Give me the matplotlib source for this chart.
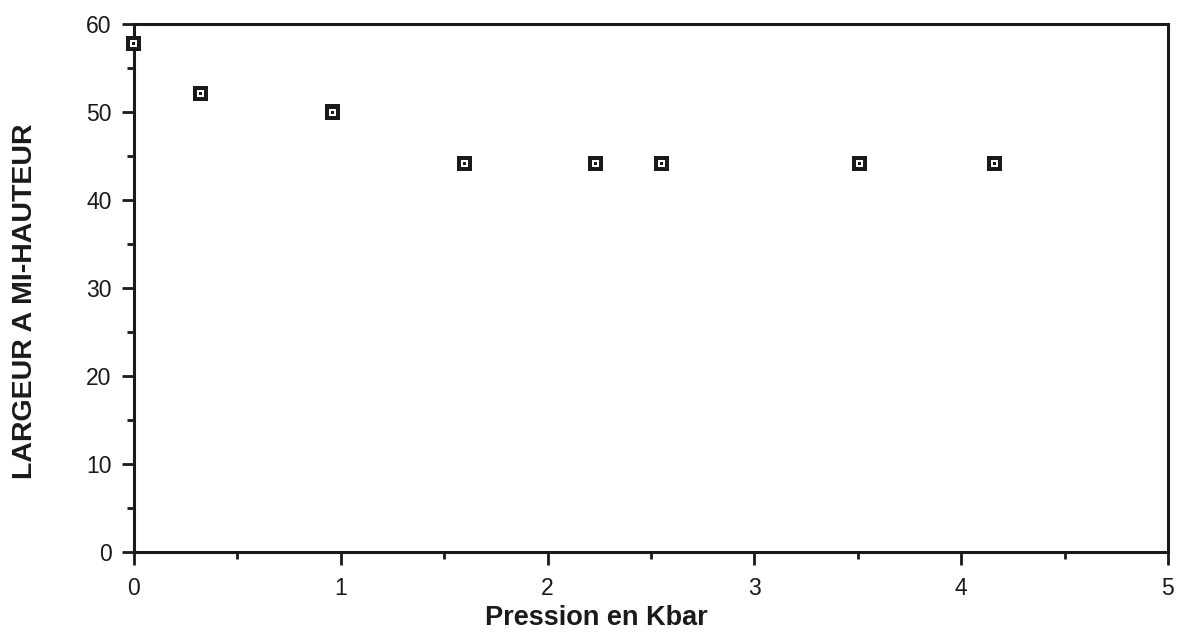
import matplotlib
matplotlib.use("Agg")
import matplotlib.pyplot as plt
from matplotlib.ticker import MultipleLocator

pression = [0.0, 0.32, 0.96, 1.60, 2.23, 2.55, 3.51, 4.16]
largeur = [57.8, 52.1, 50.0, 44.2, 44.2, 44.2, 44.2, 44.2]

x_ticks = [0, 1, 2, 3, 4, 5]
y_ticks = [0, 10, 20, 30, 40, 50, 60]

plt.rcParams['font.family'] = ['Liberation Sans', 'DejaVu Sans']

fig = plt.figure(figsize=(11.77, 6.32), dpi=100)
ax = fig.add_axes([0.1138, 0.1266, 0.8785, 0.8354])

ax.scatter(pression, largeur, marker='s', s=15**2 * 0.52, facecolor='#1a1a1a',
           edgecolor='none', zorder=3, clip_on=False)
ax.scatter(pression, largeur, marker='s', s=7**2 * 0.52, facecolor='white',
           edgecolor='none', zorder=4, clip_on=False)
ax.scatter(pression, largeur, marker='s', s=3**2 * 0.52, facecolor='#1a1a1a',
           edgecolor='none', zorder=5, clip_on=False)

ax.set_xlim(0, 5)
ax.set_ylim(0, 60)
ax.set_xticks(x_ticks)
ax.set_yticks(y_ticks)
ax.xaxis.set_minor_locator(MultipleLocator(0.5))
ax.yaxis.set_minor_locator(MultipleLocator(5))

for s in ax.spines.values():
    s.set_linewidth(2.2)
    s.set_color('#1a1a1a')

ax.tick_params(which='major', direction='out', length=9, width=2.0, color='#1a1a1a',
               labelsize=16.5, labelcolor='#1a1a1a', pad=7)
ax.tick_params(axis='x', which='major', pad=9)
ax.tick_params(which='minor', direction='out', length=5, width=2.0, color='#1a1a1a')
ax.tick_params(top=False, right=False, which='both')

ax.set_xlabel('Pression en Kbar', fontsize=19.5, fontweight='bold', color='#1a1a1a')
ax.set_ylabel('LARGEUR A MI-HAUTEUR', fontsize=20.5, fontweight='bold', color='#1a1a1a')
ax.xaxis.set_label_coords(0.447, -0.101)
ax.yaxis.set_label_coords(-0.093, 0.475)

fig.savefig('out.png', dpi=100)
